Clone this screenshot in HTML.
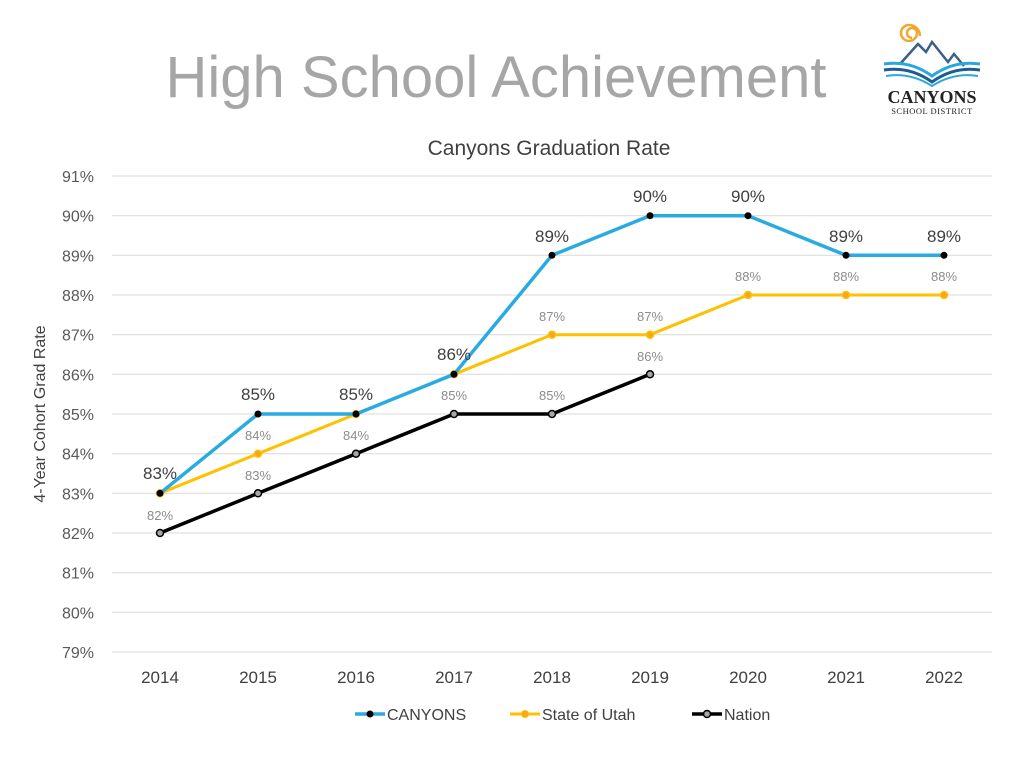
<!DOCTYPE html>
<html><head><meta charset="utf-8"><style>
body{margin:0;background:#fff;}
svg{display:block;font-family:"Liberation Sans",sans-serif;}
</style></head><body>
<svg width="1024" height="773" viewBox="0 0 1024 773">
<rect width="1024" height="773" fill="#fff"/>
<text x="496" y="97" font-size="58" fill="#a6a6a6" text-anchor="middle">High School Achievement</text>
<!-- logo -->
<g>
<path d="M912 38 a5 5 0 1 1 5 -5 a8 8 0 1 1 -8 -8 a11 11 0 0 1 11 11" fill="none" stroke="#f0a830" stroke-width="2.5"/>
<path d="M900 64 L918 44 L926 52 L932 42 L948 62 L954 54 L964 66" fill="none" stroke="#3a5f8a" stroke-width="2.5"/>
<path d="M884 64 Q910 60 932 76 Q954 60 980 64" fill="none" stroke="#2aa8dc" stroke-width="3"/>
<path d="M884 70 Q910 66 932 82 Q954 66 980 70" fill="none" stroke="#1e5c94" stroke-width="3"/>
<path d="M886 76 Q910 72 932 86 Q954 72 978 76" fill="none" stroke="#2aa8dc" stroke-width="2"/>
<text x="932" y="103" font-family="Liberation Serif,serif" font-weight="bold" font-size="18" text-anchor="middle" fill="#222">CANYONS</text>
<text x="932" y="114" font-family="Liberation Serif,serif" font-size="8.5" text-anchor="middle" fill="#222" letter-spacing="0.5">SCHOOL DISTRICT</text>
</g>
<text x="549" y="155" font-size="21" fill="#404040" text-anchor="middle">Canyons Graduation Rate</text>
<g stroke="#d9d9d9" stroke-width="1">
<line x1="112" x2="992" y1="176" y2="176"/><line x1="112" x2="992" y1="215.7" y2="215.7"/>
<line x1="112" x2="992" y1="255.3" y2="255.3"/><line x1="112" x2="992" y1="295" y2="295"/>
<line x1="112" x2="992" y1="334.7" y2="334.7"/><line x1="112" x2="992" y1="374.3" y2="374.3"/>
<line x1="112" x2="992" y1="414" y2="414"/><line x1="112" x2="992" y1="453.7" y2="453.7"/>
<line x1="112" x2="992" y1="493.3" y2="493.3"/><line x1="112" x2="992" y1="533" y2="533"/>
<line x1="112" x2="992" y1="572.7" y2="572.7"/><line x1="112" x2="992" y1="612.3" y2="612.3"/>
<line x1="112" x2="992" y1="652" y2="652"/>
</g>
<g font-size="16" fill="#595959" text-anchor="end">
<text x="94" y="182">91%</text><text x="94" y="221.7">90%</text><text x="94" y="261.3">89%</text>
<text x="94" y="301">88%</text><text x="94" y="340.7">87%</text><text x="94" y="380.3">86%</text>
<text x="94" y="420">85%</text><text x="94" y="459.7">84%</text><text x="94" y="499.3">83%</text>
<text x="94" y="539">82%</text><text x="94" y="578.7">81%</text><text x="94" y="618.3">80%</text>
<text x="94" y="658">79%</text>
</g>
<g font-size="17" fill="#404040" text-anchor="middle">
<text x="160" y="683">2014</text><text x="258" y="683">2015</text><text x="356" y="683">2016</text>
<text x="454" y="683">2017</text><text x="552" y="683">2018</text><text x="650" y="683">2019</text>
<text x="748" y="683">2020</text><text x="846" y="683">2021</text><text x="944" y="683">2022</text>
</g>
<text transform="translate(45,414) rotate(-90)" font-size="16" fill="#404040" text-anchor="middle">4-Year Cohort Grad Rate</text>
<polyline points="160,533 258,493.3 356,453.7 454,414 552,414 650,374.3" fill="none" stroke="#000" stroke-width="3.5"/>
<g fill="#a6a6a6" stroke="#000" stroke-width="1.5">
<circle cx="160" cy="533" r="3.5"/><circle cx="258" cy="493.3" r="3.5"/><circle cx="356" cy="453.7" r="3.5"/>
<circle cx="454" cy="414" r="3.5"/><circle cx="552" cy="414" r="3.5"/><circle cx="650" cy="374.3" r="3.5"/>
</g>
<polyline points="160,493.3 258,453.7 356,414 454,374.3 552,334.7 650,334.7 748,295 846,295 944,295" fill="none" stroke="#ffc000" stroke-width="3"/>
<g fill="#f5a623" stroke="#ffc000" stroke-width="1.5">
<circle cx="160" cy="493.3" r="3.5"/><circle cx="258" cy="453.7" r="3.5"/><circle cx="356" cy="414" r="3.5"/>
<circle cx="454" cy="374.3" r="3.5"/><circle cx="552" cy="334.7" r="3.5"/><circle cx="650" cy="334.7" r="3.5"/>
<circle cx="748" cy="295" r="3.5"/><circle cx="846" cy="295" r="3.5"/><circle cx="944" cy="295" r="3.5"/>
</g>
<polyline points="160,493.3 258,414 356,414 454,374.3 552,255.3 650,215.7 748,215.7 846,255.3 944,255.3" fill="none" stroke="#29abe2" stroke-width="3.5"/>
<g fill="#000">
<circle cx="160" cy="493.3" r="3.5"/><circle cx="258" cy="414" r="3.5"/><circle cx="356" cy="414" r="3.5"/>
<circle cx="454" cy="374.3" r="3.5"/><circle cx="552" cy="255.3" r="3.5"/><circle cx="650" cy="215.7" r="3.5"/>
<circle cx="748" cy="215.7" r="3.5"/><circle cx="846" cy="255.3" r="3.5"/><circle cx="944" cy="255.3" r="3.5"/>
</g>
<g font-size="17" fill="#404040" text-anchor="middle">
<text x="160" y="479">83%</text><text x="258" y="400">85%</text><text x="356" y="400">85%</text>
<text x="454" y="360">86%</text><text x="552" y="242">89%</text><text x="650" y="202">90%</text>
<text x="748" y="202">90%</text><text x="846" y="242">89%</text><text x="944" y="242">89%</text>
</g>
<g font-size="13" fill="#8c8c8c" text-anchor="middle">
<text x="258" y="440">84%</text><text x="552" y="321">87%</text><text x="650" y="321">87%</text>
<text x="748" y="281">88%</text><text x="846" y="281">88%</text><text x="944" y="281">88%</text>
<text x="160" y="520">82%</text><text x="258" y="480">83%</text><text x="356" y="440">84%</text>
<text x="454" y="400">85%</text><text x="552" y="400">85%</text><text x="650" y="361">86%</text>
</g>
<line x1="355" x2="385" y1="714" y2="714" stroke="#29abe2" stroke-width="3.5"/><circle cx="370" cy="714" r="3.5" fill="#000"/>
<text x="387" y="720" font-size="16" fill="#404040">CANYONS</text>
<line x1="510" x2="540" y1="714" y2="714" stroke="#ffc000" stroke-width="3"/><circle cx="525" cy="714" r="3.5" fill="#f5a623" stroke="#ffc000"/>
<text x="542" y="720" font-size="16" fill="#404040">State of Utah</text>
<line x1="692" x2="722" y1="714" y2="714" stroke="#000" stroke-width="3.5"/><circle cx="707" cy="714" r="3.5" fill="#a6a6a6" stroke="#000" stroke-width="1.5"/>
<text x="724" y="720" font-size="16" fill="#404040">Nation</text>
</svg>
</body></html>
